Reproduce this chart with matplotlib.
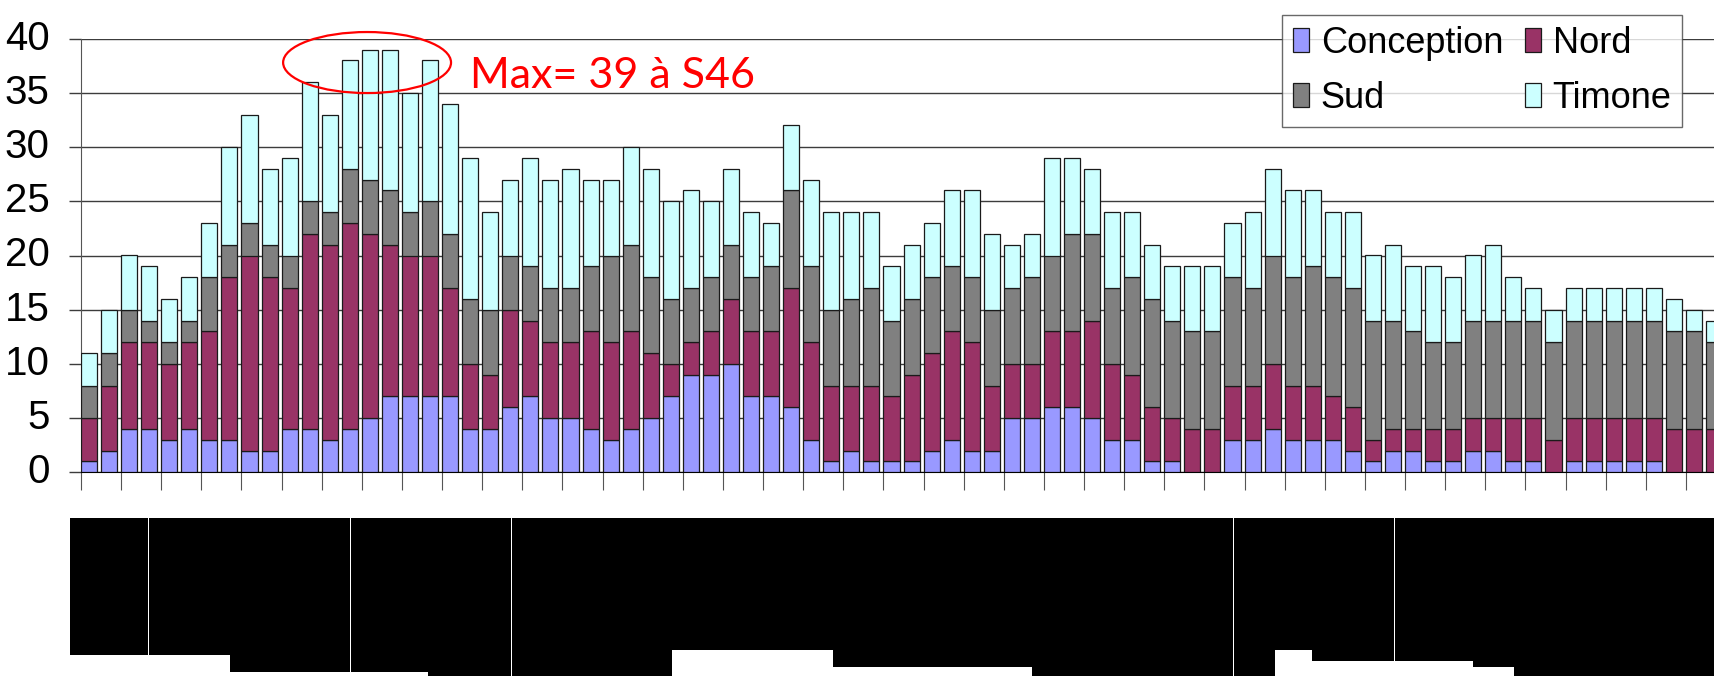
import matplotlib
matplotlib.use("Agg")
import matplotlib.pyplot as plt
import numpy as np
from matplotlib.patches import Ellipse, Rectangle, Patch

# ---- data (weekly counts, stacked) ----
conception = [1, 2, 4, 4, 3, 4, 3, 3, 2, 2, 4, 4, 3, 4, 5, 7, 7, 7, 7,
              4, 4, 6, 7, 5, 5, 4, 3, 4, 5, 7, 9, 9, 10, 7, 7, 6, 3, 1, 2, 1, 1,
              1, 2, 3, 2, 2, 5, 5, 6, 6, 5, 3, 3, 1, 1, 0, 0, 3, 3, 4, 3, 3, 3,
              2, 1, 2, 2, 1, 1, 2, 2, 1, 1, 0, 1, 1, 1, 1, 1, 0, 0, 0]
nord = [4, 6, 8, 8, 7, 8, 10, 15, 18, 16, 13, 18, 18, 19, 17, 14, 13, 13, 10,
        6, 5, 9, 7, 7, 7, 9, 9, 9, 6, 3, 3, 4, 6, 6, 6, 11, 9, 7, 6, 7, 6,
        8, 9, 10, 10, 6, 5, 5, 7, 7, 9, 7, 6, 5, 4, 4, 4, 5, 5, 6, 5, 5, 4,
        4, 2, 2, 2, 3, 3, 3, 3, 4, 4, 3, 4, 4, 4, 4, 4, 4, 4, 4]
sud = [3, 3, 3, 2, 2, 2, 5, 3, 3, 3, 3, 3, 3, 5, 5, 5, 4, 5, 5,
       6, 6, 5, 5, 5, 5, 6, 8, 8, 7, 6, 5, 5, 5, 5, 6, 9, 7, 7, 8, 9, 7,
       7, 7, 6, 6, 7, 7, 8, 7, 9, 8, 7, 9, 10, 9, 9, 9, 10, 9, 10, 10, 11, 11,
       11, 11, 10, 9, 8, 8, 9, 9, 9, 9, 9, 9, 9, 9, 9, 9, 9, 9, 8]
timone = [3, 4, 5, 5, 4, 4, 5, 9, 10, 7, 9, 11, 9, 10, 12, 13, 11, 13, 12,
          13, 9, 7, 10, 10, 11, 8, 7, 9, 10, 9, 9, 7, 7, 6, 4, 6, 8, 9, 8, 7, 5,
          5, 5, 7, 8, 7, 4, 4, 9, 7, 6, 7, 6, 5, 5, 6, 6, 5, 7, 8, 8, 7, 6,
          7, 6, 7, 6, 7, 6, 6, 7, 4, 3, 3, 3, 3, 3, 3, 3, 3, 2, 2]
series_names = ["Conception", "Nord", "Sud", "Timone"]
series_colors = ["#9999FF", "#993366", "#808080", "#CCFFFF"]
y_ticks = [0, 5, 10, 15, 20, 25, 30, 35, 40]
annotation = "Max= 39 à S46"

# ---- figure ----
W, H = 1715, 676
fig = plt.figure(figsize=(W / 100, H / 100), dpi=100, facecolor="white")
ax = fig.add_axes([81 / W, 1 - 472.3 / H, 1 - 81 / W, (472.3 - 38.7) / H])

narrow = ["Liberation Sans Narrow", "Liberation Sans", "DejaVu Sans"]

x = np.arange(len(conception))
bottom = np.zeros(len(x))
handles = {}
for vals, name, col in zip([conception, nord, sud, timone], series_names, series_colors):
    ax.bar(x, vals, width=0.8, bottom=bottom, align="edge", color=col,
           edgecolor="#1a1a1a", linewidth=0.9, zorder=3)
    bottom += np.array(vals)
    handles[name] = Patch(facecolor=col, edgecolor="#1a1a1a", linewidth=0.9)

ax.set_xlim(0, 81.45)
ax.set_ylim(0, 40)
ax.set_yticks(y_ticks)
ax.set_yticklabels([str(v) for v in y_ticks], fontfamily=narrow, fontsize=29)
for lbl in ax.get_yticklabels():
    lbl.set_verticalalignment("center")
ax.yaxis.grid(True, color="#3c3c3c", linewidth=1.0, zorder=0)
ax.set_axisbelow(True)
ax.set_xticks(np.arange(0, 82, 2))
ax.set_xticklabels([])
ax.tick_params(axis="x", direction="out", length=13, width=0.8, color="#555555")
ax.tick_params(axis="y", direction="out", length=8.6, width=1.0, color="#3c3c3c", pad=14)
for s in ["top", "right"]:
    ax.spines[s].set_visible(False)
ax.spines["left"].set_color("#555555")
ax.spines["bottom"].set_color("black")

# annotation
ax.text(19.39, 35.45, annotation, color="red", fontsize=31,
        family=["Lato", "DejaVu Sans"], ha="left", va="baseline", zorder=6)
ax.add_patch(Ellipse((14.26, 37.8), 8.37, 5.63, fill=False, edgecolor="red",
                     linewidth=1.6, clip_on=False, zorder=6))

# legend (column-major order to get rows: Conception/Nord, Sud/Timone)
order = ["Conception", "Sud", "Nord", "Timone"]
leg = ax.legend([handles[n] for n in order], order, ncol=2,
                loc="upper left", bbox_to_anchor=(1282 / W, 1 - 15 / H),
                bbox_transform=fig.transFigure, frameon=True, fancybox=False,
                prop={"family": narrow, "size": 26}, handlelength=0.45,
                handleheight=0.64, handletextpad=0.32, columnspacing=0.6,
                labelspacing=0.55, borderpad=0.3, borderaxespad=0)
leg.get_frame().set_edgecolor("#444444")
leg.get_frame().set_linewidth(1.0)
leg.set_zorder(10)

# black masked label area below the axis (as in the reference image)
mask_top = 518
mask_blocks = [(70, 230.4, 655), (230.4, 428.4, 672), (428.4, 672, 676),
               (672, 833, 650), (833, 1032, 667), (1032, 1275, 676),
               (1275, 1312, 650), (1312, 1473, 661), (1473, 1514, 667),
               (1514, 1715, 676)]
for x0, x1, yb in mask_blocks:
    fig.add_artist(Rectangle((x0 / W, 1 - yb / H), (x1 - x0) / W, (yb - mask_top) / H,
                             transform=fig.transFigure, facecolor="black",
                             edgecolor="none", zorder=20))
mask_lines = [(148, 655), (350, 672), (511, 676), (1233, 676), (1394, 661)]
for lx, yb in mask_lines:
    fig.add_artist(Rectangle((lx / W, 1 - yb / H), 1.2 / W, (yb - mask_top) / H,
                             transform=fig.transFigure, facecolor="white",
                             edgecolor="none", zorder=21))

fig.savefig("out.png", dpi=100)
